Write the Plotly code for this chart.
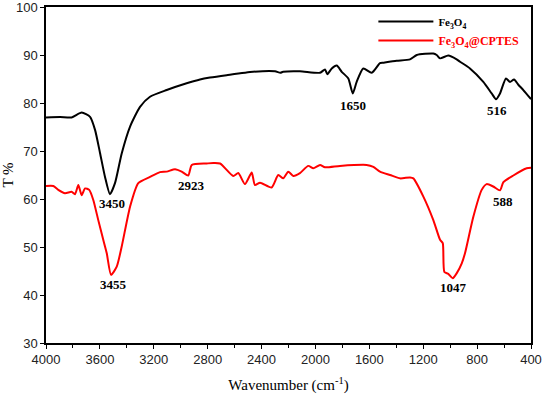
import plotly.graph_objects as go

# FT-IR spectra, values
black_wn = [4000, 3896, 3810, 3735, 3673, 3636, 3599, 3562, 3525, 3488, 3438, 3376, 3302, 3228, 3104,
            2956, 2857, 2783, 2659, 2463, 2300, 2260, 2240, 2115, 1966, 1929, 1912, 1879, 1842, 1805,
            1756, 1723, 1694, 1645, 1582, 1521, 1496, 1397, 1298, 1248, 1125, 1100, 1075, 1014, 952,
            927, 853, 754, 692, 660, 630, 586, 556, 526, 494, 457, 400]
black_t = [77.0, 77.1, 77.0, 78.0, 77.1, 74.4, 69.6, 64.6, 61.0, 63.3, 69.5, 75.1, 79.2, 81.3, 82.7,
           84.1, 84.9, 85.3, 85.8, 86.5, 86.6, 86.3, 86.5, 86.6, 86.3, 87.0, 86.0, 87.2, 87.8, 86.5,
           85.1, 82.0, 84.4, 87.2, 86.3, 88.3, 88.4, 88.8, 89.1, 90.0, 90.3, 90.0, 89.3, 89.9, 89.1,
           88.6, 87.2, 84.4, 82.0, 80.8, 82.0, 85.1, 84.4, 84.9, 83.8, 82.7, 80.8]

red_wn = [4000, 3946, 3909, 3859, 3810, 3785, 3760, 3735, 3710, 3679, 3649, 3612, 3575, 3549, 3517,
          3475, 3438, 3376, 3315, 3228, 3154, 3104, 3042, 2993, 2944, 2918, 2807, 2758, 2708, 2610,
          2573, 2523, 2473, 2449, 2411, 2325, 2276, 2239, 2202, 2164, 2115, 2053, 2016, 1966, 1929,
          1818, 1620, 1570, 1521, 1446, 1372, 1298, 1273, 1199, 1125, 1075, 1055, 1043, 1014, 981,
          952, 914, 890, 828, 766, 729, 680, 630, 605, 531, 432, 400]
red_t = [62.7, 62.7, 61.9, 61.2, 61.5, 61.0, 62.9, 60.8, 62.2, 61.9, 59.8, 55.6, 51.5, 48.7, 44.2,
         45.9, 50.1, 58.4, 63.3, 64.6, 65.6, 65.7, 66.2, 65.7, 64.9, 67.1, 67.4, 67.5, 67.4, 64.8,
         65.4, 63.1, 65.5, 62.9, 63.4, 62.4, 65.0, 64.3, 65.7, 64.8, 65.4, 66.9, 66.4, 67.1, 66.6,
         66.9, 67.1, 66.7, 65.7, 65.0, 64.3, 64.5, 64.3, 60.5, 55.6, 51.5, 50.8, 44.8, 44.4, 43.5,
         44.5, 46.6, 48.7, 56.3, 61.9, 63.1, 62.6, 61.8, 63.5, 64.9, 66.4, 66.5]

peak_labels = ['3450', '3455', '2923', '1650', '516', '1047', '588']
peak_x = [3512, 3500, 2918, 1721, 655, 979, 610]
peak_y = [59.1, 42.1, 62.8, 79.4, 78.5, 41.5, 59.4]

fig = go.Figure()
fig.add_trace(go.Scatter(x=black_wn, y=black_t, mode='lines',
                         name="<b><span style='font-size:11px'>Fe<sub>3</sub>O<sub>4</sub></span></b>",
                         line=dict(color='black', width=2, shape='spline', smoothing=0.6)))
fig.add_trace(go.Scatter(x=red_wn, y=red_t, mode='lines',
                         name="<b><span style='color:red'>Fe<sub>3</sub>O<sub>4</sub>@CPTES</span></b>",
                         line=dict(color='red', width=2, shape='spline', smoothing=0.6)))

for txt, px, py in zip(peak_labels, peak_x, peak_y):
    fig.add_annotation(x=px, y=py, text='<b>' + txt + '</b>', showarrow=False,
                       font=dict(family='Liberation Serif', size=13, color='black'))

axis_style = dict(showline=True, linecolor='black', linewidth=1.5, mirror=True, ticks='outside',
                  ticklen=4, tickcolor='black', showgrid=False, zeroline=False, automargin=False,
                  ticklabeloverflow='allow',
                  tickfont=dict(family='Liberation Sans', size=13, color='#222'))

fig.update_xaxes(range=[4000, 400], dtick=400, tick0=400,
                 minor=dict(dtick=200, tick0=400, ticks='outside', ticklen=3, tickcolor='black'),
                 title=dict(text='Wavenumber (cm<sup>-1</sup>)',
                            font=dict(family='Liberation Serif', size=15, color='black')),
                 **axis_style)
fig.update_yaxes(range=[30, 100], dtick=10,
                 title=dict(text='T %',
                            font=dict(family='Liberation Serif', size=15, color='black')),
                 **axis_style)

fig.update_layout(width=543, height=394, margin=dict(l=46, r=12, t=7, b=51),
                  plot_bgcolor='white', paper_bgcolor='white', showlegend=True,
                  legend=dict(x=0.675, y=1.0, xanchor='left', yanchor='top', bgcolor='rgba(0,0,0,0)',
                              font=dict(family='Liberation Serif', size=12, color='black'),
                              itemwidth=55, tracegroupgap=0))

# the page body has a default 8px margin; drop it so the figure sits at the window corner
fig.write_html("out.html", config={'displayModeBar': False},
               post_script="document.body.style.margin='0';")
